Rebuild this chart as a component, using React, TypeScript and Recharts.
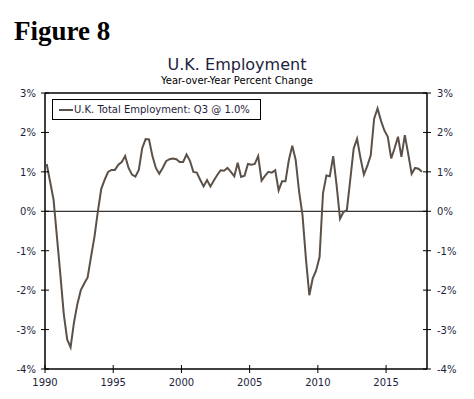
import React from 'react';
import { LineChart, Line, XAxis, YAxis, ReferenceLine } from 'recharts';

// Q1 1990 .. Q3 2017, year-over-year % change in UK total employment
const startYear = 1990;
const employment = [
  1.2, 0.75, 0.3, -0.65,
  -1.6, -2.6, -3.25, -3.45,
  -2.82, -2.35, -2.0, -1.83,
  -1.68, -1.15, -0.65, 0.0,
  0.57, 0.8, 1.0, 1.05,
  1.05, 1.18, 1.25, 1.4,
  1.1, 0.93, 0.88, 1.05,
  1.6, 1.83, 1.82, 1.4,
  1.1, 0.95, 1.1, 1.27,
  1.32, 1.34, 1.32, 1.25,
  1.25, 1.44, 1.28, 1.0,
  0.98, 0.8, 0.63, 0.79,
  0.63, 0.78, 0.92, 1.04,
  1.03, 1.1, 1.0, 0.89,
  1.23, 0.87, 0.9, 1.2,
  1.18, 1.2, 1.4, 0.78,
  0.9, 1.0, 0.98, 1.04,
  0.53, 0.76, 0.76, 1.3,
  1.66, 1.3, 0.5, -0.1,
  -1.2, -2.13, -1.7, -1.5,
  -1.16, 0.45, 0.91, 0.89,
  1.4, 0.66, -0.19, -0.02,
  0.03, 0.8, 1.59, 1.84,
  1.35, 0.93, 1.15, 1.42,
  2.35, 2.61, 2.3, 2.05,
  1.89, 1.34, 1.6, 1.89,
  1.38, 1.93, 1.45, 0.95,
  1.1, 1.08, 1.0,
];
const xTicks = [1990, 1995, 2000, 2005, 2010, 2015];
const yTicks = [-4, -3, -2, -1, 0, 1, 2, 3];

const data = employment.map((v, i) => ({ t: startYear + (i + 0.5) / 4, v }));

const ink = '#1e1e3c';
const font = '"DejaVu Sans", Verdana, sans-serif';

const XTick = ({ x, y, payload }: any) => (
  <g>
    <line x1={x} x2={x} y1={y - 4} y2={y + 4} stroke="#000" />
    <text x={x} y={y + 17} textAnchor="middle" fontSize={10} fill={ink} fontFamily={font}>{payload.value}</text>
  </g>
);

const YTickL = ({ x, y, payload }: any) => (
  <g>
    <line x1={x - 4} x2={x + 4} y1={y} y2={y} stroke="#000" />
    <text x={x - 9} y={y + 4} textAnchor="end" fontSize={10} fill={ink} fontFamily={font}>{payload.value}%</text>
  </g>
);

const YTickR = ({ x, y, payload }: any) => (
  <g>
    <line x1={x - 4} x2={x + 4} y1={y} y2={y} stroke="#000" />
    <text x={x + 10} y={y + 4} textAnchor="start" fontSize={10} fill={ink} fontFamily={font}>{payload.value}%</text>
  </g>
);

export default function App() {
  return (
    <div style={{ position: 'absolute', left: 0, top: 0, width: 474, height: 399, background: '#fff', fontFamily: font }}>
      <div style={{ position: 'absolute', left: 14, top: 16, fontFamily: '"Liberation Serif", serif', fontWeight: 'bold', fontSize: 27, lineHeight: '30px', color: '#000' }}>
        Figure 8
      </div>
      <div style={{ position: 'absolute', left: 0, width: 474, top: 56, textAlign: 'center', fontSize: 16, lineHeight: '18px', color: ink }}>
        U.K. Employment
      </div>
      <div style={{ position: 'absolute', left: 0, width: 474, top: 75, textAlign: 'center', fontSize: 10, lineHeight: '12px', color: '#000' }}>
        Year-over-Year Percent Change
      </div>
      <LineChart width={474} height={399} data={data} margin={{ top: 93, right: 0, bottom: 0, left: 0 }}>
        <XAxis
          dataKey="t"
          type="number"
          domain={[1990, 2018]}
          ticks={xTicks}
          height={30}
          tickSize={0}
          tickMargin={0}
          tickLine={false}
          axisLine={{ stroke: '#000', strokeWidth: 1.5 }}
          tick={<XTick />}
          allowDataOverflow
        />
        <YAxis
          yAxisId="l"
          domain={[-4, 3]}
          ticks={yTicks}
          width={45}
          tickSize={0}
          tickMargin={0}
          tickLine={false}
          axisLine={{ stroke: '#000', strokeWidth: 1.5 }}
          tick={<YTickL />}
          allowDataOverflow
        />
        <YAxis
          yAxisId="r"
          orientation="right"
          domain={[-4, 3]}
          ticks={yTicks}
          width={47}
          tickSize={0}
          tickMargin={0}
          tickLine={false}
          axisLine={{ stroke: '#000', strokeWidth: 1.5 }}
          tick={<YTickR />}
          allowDataOverflow
        />
        <ReferenceLine yAxisId="l" y={3} stroke="#000" strokeWidth={1.5} />
        <ReferenceLine yAxisId="l" y={0} stroke="#000" strokeWidth={1} />
        <Line
          yAxisId="l"
          dataKey="v"
          type="linear"
          stroke="#5b5148"
          strokeWidth={2}
          dot={false}
          isAnimationActive={false}
        />
      </LineChart>
      <div style={{ position: 'absolute', left: 52, top: 99, width: 209, height: 21, border: '1px solid #000', boxSizing: 'border-box', display: 'flex', alignItems: 'center', fontSize: 10, color: ink }}>
        <span style={{ display: 'inline-block', width: 14, height: 2, background: '#5b5148', marginLeft: 6, marginRight: 1 }} />
        <span>U.K. Total Employment: Q3 @ 1.0%</span>
      </div>
    </div>
  );
}
